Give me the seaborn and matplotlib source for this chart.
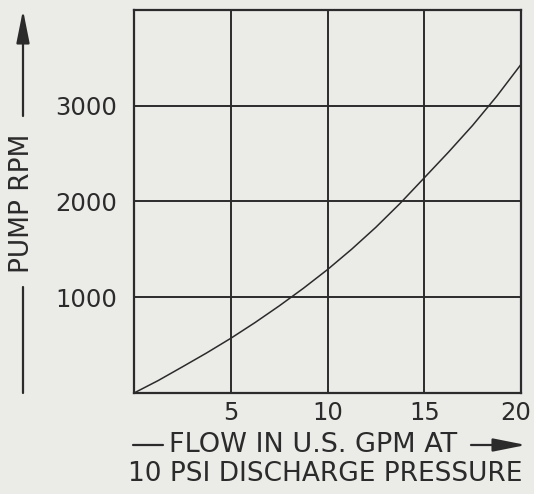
#!/usr/bin/env python3

import pandas as pd
import matplotlib.pyplot as plt
import matplotlib.transforms as mtransforms
from matplotlib.patches import FancyArrowPatch
import seaborn as sns

# === Data ===
flow_gpm = [0, 1.25, 2.5, 3.75, 5, 6.25, 7.5, 8.75, 10,
            11.25, 12.5, 13.75, 15, 16.25, 17.5, 18.75, 20]
pump_rpm = [0, 130, 273, 418, 571, 735, 909, 1093, 1289,
            1502, 1731, 1980, 2247, 2515, 2795, 3100, 3432]

x_ticks = [0, 5, 10, 15, 20]
x_tick_labels = ["", "5", "10", "15", "20"]
y_ticks = [0, 1000, 2000, 3000, 4000]
y_tick_labels = ["", "1000", "2000", "3000", ""]

# === Style ===
paper = "#ebebe8"
ink = "#2b2b2b"
sns.set_theme(style="whitegrid")
plt.rcParams["font.family"] = ["DejaVu Sans"]

W, H = 534, 494
fig = plt.figure(figsize=(W / 100, H / 100), dpi=100, facecolor=paper)
ax = fig.add_axes([134 / W, 1 - 393 / H, (521 - 134) / W, (393 - 10) / H])
ax.set_facecolor(paper)

df = pd.DataFrame({"flow": flow_gpm, "rpm": pump_rpm})
sns.lineplot(data=df, x="flow", y="rpm", ax=ax, color=ink, linewidth=1.1)

ax.set_xlim(0, 20)
ax.set_ylim(0, 4000)
ax.set_xticks(x_ticks)
ax.set_xticklabels(x_tick_labels)
ax.set_yticks(y_ticks)
ax.set_yticklabels(y_tick_labels)
ax.tick_params(axis="both", length=0, labelsize=17.5, labelcolor=ink)
ax.tick_params(axis="y", pad=12)
ax.tick_params(axis="x", pad=6)
ax.set_xlabel("")
ax.set_ylabel("")

# last x label sits a little inside the right edge
last = ax.get_xticklabels()[-1]
last.set_transform(last.get_transform() +
                   mtransforms.ScaledTranslation(-5 / 100, 0, fig.dpi_scale_trans))

ax.grid(True, color=ink, linewidth=1.4)
for s in ax.spines.values():
    s.set_visible(True)
    s.set_color(ink)
    s.set_linewidth(1.6)

# === Axis captions with arrows (figure pixel coords) ===
def fx(px):
    return px / W

def fy(py):
    return 1 - py / H

def arrow(p0, p1):
    fig.patches.append(FancyArrowPatch(
        (fx(p0[0]), fy(p0[1])), (fx(p1[0]), fy(p1[1])), transform=fig.transFigure,
        arrowstyle="-|>,head_length=20,head_width=4", color=ink, linewidth=1.6,
        shrinkA=0, shrinkB=0))

# y caption
fig.text(fx(22), fy(203), "PUMP RPM", rotation=90, ha="center", va="center",
         fontsize=19, color=ink)
fig.add_artist(plt.Line2D([fx(23), fx(23)], [fy(287), fy(393)], color=ink, linewidth=1.6))
arrow((23, 116), (23, 10))

# x caption
fig.add_artist(plt.Line2D([fx(133), fx(163)], [fy(445), fy(445)], color=ink, linewidth=1.6))
fig.text(fx(169), fy(445), "FLOW IN U.S. GPM AT", ha="left", va="center",
         fontsize=19.5, color=ink)
arrow((471, 445), (526, 445))
fig.text(fx(325), fy(474), "10 PSI DISCHARGE PRESSURE", ha="center", va="center",
         fontsize=19, color=ink)

plt.savefig("out.png", dpi=100, facecolor=paper)
plt.close()
